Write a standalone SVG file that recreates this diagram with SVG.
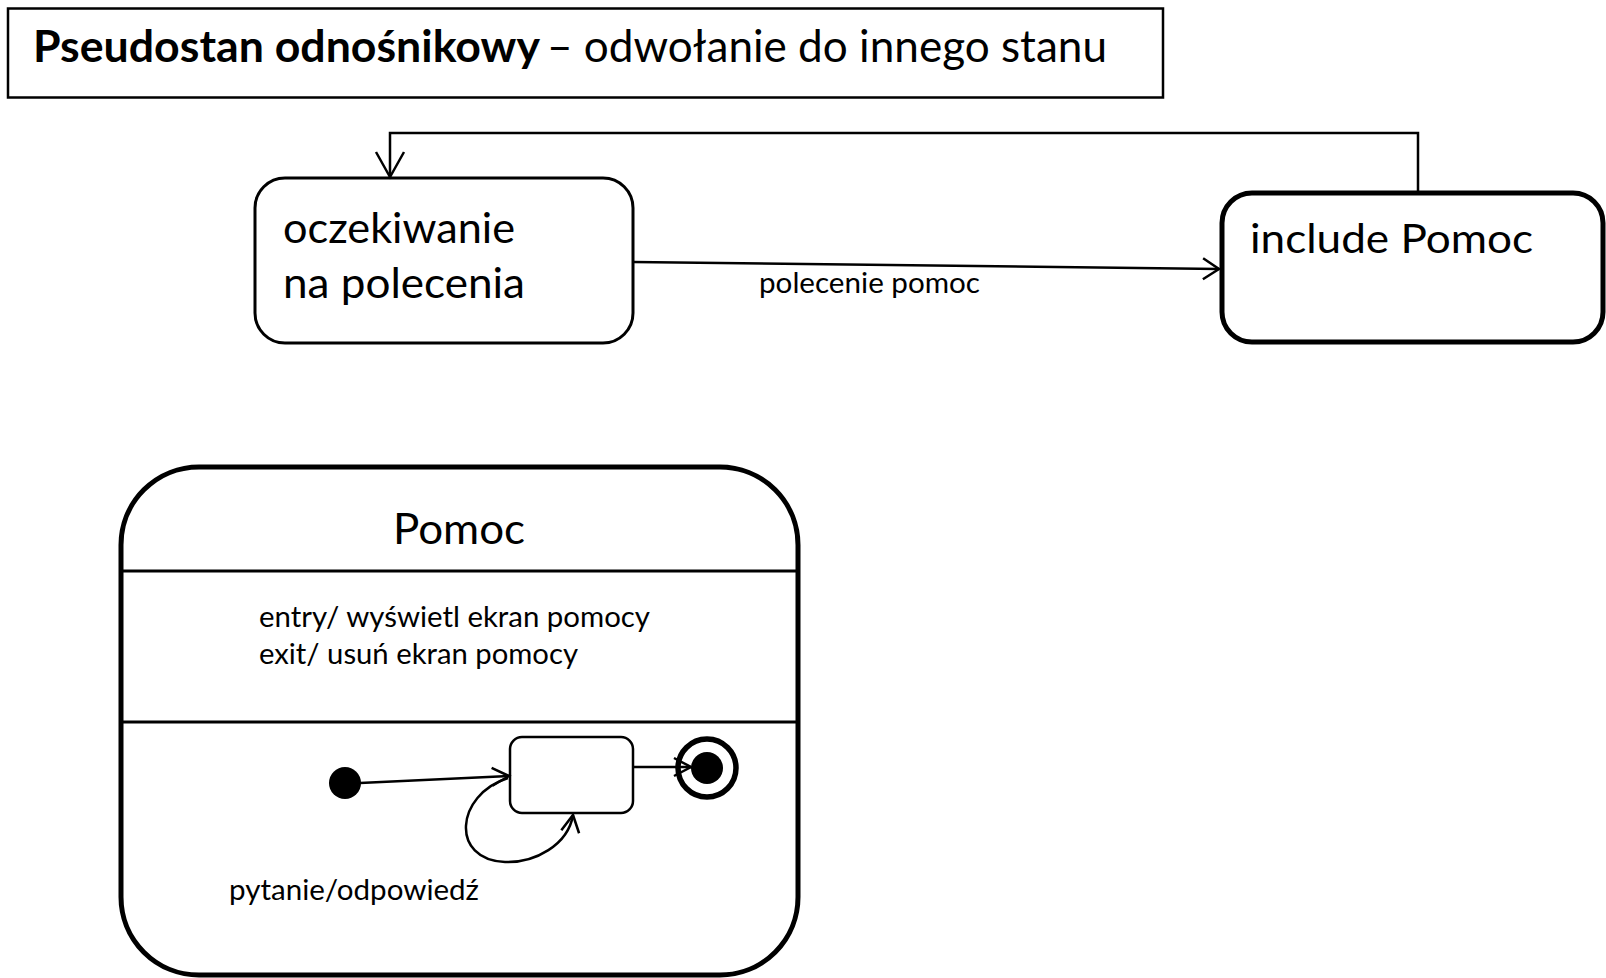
<svg xmlns="http://www.w3.org/2000/svg" width="1606" height="978" viewBox="0 0 1606 978">
  <style>
    text { font-family: Lato, "Open Sans", "Liberation Sans", sans-serif; fill: #000; }
    .state { fill: #fff; stroke: #000; }
    .conn { fill: none; stroke: #000; stroke-width: 2.5; }
    .head { fill: none; stroke: #000; stroke-width: 2.5; stroke-linejoin: miter; }
  </style>
  <defs>
    <marker id="arrowLarge" markerUnits="userSpaceOnUse" viewBox="-26 -16 30 32" markerWidth="30" markerHeight="32" refX="0" refY="0" orient="auto" overflow="visible">
      <path class="head" d="M -25 -14 L 0 0 L -25 14"/>
    </marker>
    <marker id="arrowMid" markerUnits="userSpaceOnUse" viewBox="-20 -12 24 24" markerWidth="24" markerHeight="24" refX="0" refY="0" orient="auto" overflow="visible">
      <path class="head" d="M -16 -10.5 L 0 0 L -16 10.5"/>
    </marker>
    <marker id="arrowSmall" markerUnits="userSpaceOnUse" viewBox="-20 -12 24 24" markerWidth="24" markerHeight="24" refX="0" refY="0" orient="auto" overflow="visible">
      <path class="head" d="M -17 -9 L 0 0 L -17 9"/>
    </marker>
  </defs>

  <rect x="0" y="0" width="1606" height="978" fill="#fff"/>

  <!-- heading frame -->
  <g id="title">
    <rect x="8" y="8.5" width="1155" height="89" fill="#fff" stroke="#000" stroke-width="2.5"/>
    <text x="33" y="62" font-size="44" font-weight="bold" textLength="507" lengthAdjust="spacingAndGlyphs">Pseudostan odnośnikowy</text>
    <text x="547" y="62" font-size="44" textLength="560" lengthAdjust="spacingAndGlyphs">– odwołanie do innego stanu</text>
  </g>

  <!-- top-level states -->
  <g id="oczekiwanie">
    <rect class="state" x="255" y="178" width="378" height="165" rx="30" stroke-width="3"/>
    <text x="283" y="243" font-size="43" textLength="232" lengthAdjust="spacingAndGlyphs">oczekiwanie</text>
    <text x="283" y="298" font-size="43" textLength="242" lengthAdjust="spacingAndGlyphs">na polecenia</text>
  </g>

  <g id="include-pomoc">
    <rect class="state" x="1222" y="193" width="381" height="149" rx="30" stroke-width="5"/>
    <text x="1250" y="253" font-size="41" textLength="283" lengthAdjust="spacingAndGlyphs">include Pomoc</text>
  </g>

  <!-- composite state Pomoc -->
  <g id="pomoc">
    <rect class="state" x="121" y="467" width="677" height="508" rx="78" stroke-width="5"/>
    <line x1="121" y1="571" x2="798" y2="571" stroke="#000" stroke-width="3"/>
    <line x1="121" y1="722" x2="798" y2="722" stroke="#000" stroke-width="3"/>
    <text x="393" y="544" font-size="43" textLength="132" lengthAdjust="spacingAndGlyphs">Pomoc</text>
    <text x="259" y="627" font-size="29" textLength="391" lengthAdjust="spacingAndGlyphs">entry/ wyświetl ekran pomocy</text>
    <text x="259" y="664" font-size="29" textLength="319" lengthAdjust="spacingAndGlyphs">exit/ usuń ekran pomocy</text>
  </g>

  <g id="pomoc-initial">
    <circle cx="345" cy="783" r="16" fill="#000"/>
  </g>

  <g id="pomoc-inner-state">
    <rect class="state" x="510" y="737" width="123" height="76" rx="12" stroke-width="2.5"/>
  </g>

  <g id="pomoc-final">
    <circle cx="707" cy="768" r="29" fill="#fff" stroke="#000" stroke-width="5.5"/>
    <circle cx="707" cy="768" r="16" fill="#000"/>
  </g>

  <!-- transitions -->
  <g id="connectors">
    <line class="conn" x1="633" y1="262" x2="1219" y2="269" marker-end="url(#arrowMid)"/>
    <text x="759" y="293" font-size="28" textLength="221" lengthAdjust="spacingAndGlyphs">polecenie pomoc</text>

    <polyline class="conn" points="1418,193 1418,133 390,133 390,177" marker-end="url(#arrowLarge)"/>

    <line class="conn" x1="360" y1="783" x2="509" y2="776" marker-end="url(#arrowSmall)"/>
    <line class="conn" x1="633" y1="767" x2="691" y2="767" marker-end="url(#arrowSmall)"/>

    <path class="conn" d="M 508 778 C 455 795, 450 860, 505 862 C 535 863, 568 845, 573 815" marker-end="url(#arrowSmall)"/>
    <text x="229" y="900" font-size="29" textLength="250" lengthAdjust="spacingAndGlyphs">pytanie/odpowiedź</text>
  </g>
</svg>
